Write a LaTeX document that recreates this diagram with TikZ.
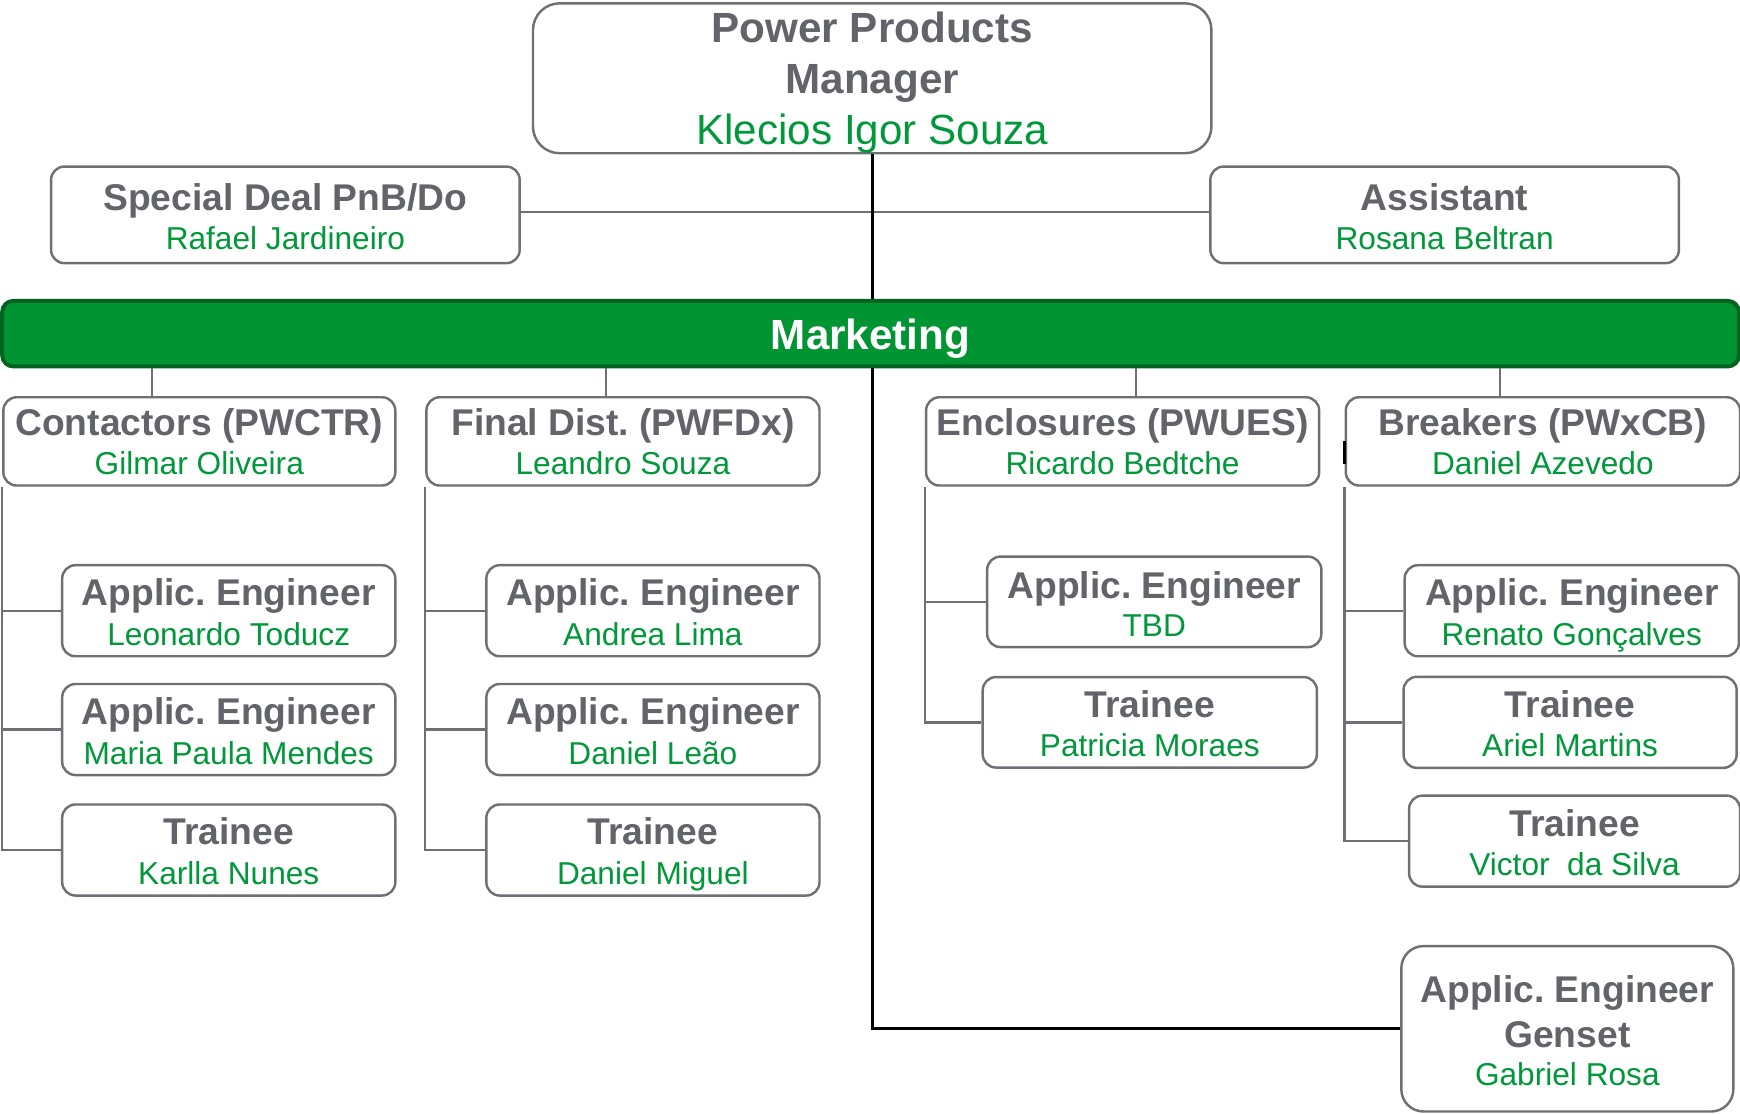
\documentclass[tikz,border=0pt]{standalone}
\usepackage{fontspec}
\setmainfont{Liberation Sans}
\usetikzlibrary{positioning}
\definecolor{txtgray}{RGB}{99,100,106}
\definecolor{boxgray}{RGB}{111,112,117}
\definecolor{nmgreen}{RGB}{0,152,58}
\definecolor{barfill}{RGB}{0,149,50}
\definecolor{bardraw}{RGB}{0,100,32}
\frenchspacing

\begin{document}
\begin{tikzpicture}[x=1pt, y=-1pt,
	box/.style = {draw=boxgray, line width=2.2pt, fill=white,
                   rounded corners=12pt, inner sep=0pt,
                   minimum width=300pt, minimum height=82pt},
	ttl/.style = {anchor=base, inner sep=0pt, text=txtgray,
                   font=\fontsize{33.5}{40}\selectfont\bfseries},
	nm/.style = {anchor=base, inner sep=0pt, text=nmgreen,
                   font=\fontsize{28.5}{34}\selectfont},
	conn/.style = {draw=boxgray, line width=2.2pt},
	trunk/.style = {draw=black, line width=2.4pt}
                   ]
\useasboundingbox (0,0) rectangle (1567,1003.2);

% manager and staff
\node[box, minimum width=611pt, minimum height=135pt, rounded corners=24pt] (mgr) at (785.5,70.5) {};
\node[ttl, font=\fontsize{38}{44}\selectfont\bfseries] (mgr-t1) at ([yshift=-36.5pt]mgr.north) {Power Products};
\node[ttl, font=\fontsize{38}{44}\selectfont\bfseries] (mgr-t2) at ([yshift=-82.5pt]mgr.north) {Manager};
\node[nm, font=\fontsize{38}{44}\selectfont] (mgr-n) at ([yshift=-128.5pt]mgr.north) {Klecios Igor Souza};

\node[box, minimum width=422pt, minimum height=87pt] (spd) at (257,193.5) {};
\node[ttl] (spd-t) at ([yshift=-41pt]spd.north) {Special Deal PnB/Do};
\node[nm] (spd-n) at ([yshift=-75.5pt]spd.north) {Rafael Jardineiro};

\node[box, minimum width=422pt, minimum height=87pt] (ast) at (1301,193.5) {};
\node[ttl] (ast-t) at ([yshift=-41pt]ast.north) {Assistant};
\node[nm] (ast-n) at ([yshift=-75.5pt]ast.north) {Rosana Beltran};

% marketing bar
\node[draw=bardraw, fill=barfill, line width=3.6pt, rounded corners=10pt,
      minimum width=1564pt, minimum height=59pt, inner sep=0pt] (mkt) at (784,300.5) {};
\node[ttl, text=white, font=\fontsize{38}{44}\selectfont\bfseries] (mkt-t) at ([yshift=-46pt]mkt.north) {Marketing};

% product lines
\node[box, minimum width=353pt, minimum height=79.5pt] (ctr) at (179.5,397.5) {};
\node[ttl] (ctr-t) at ([yshift=-35.5pt]ctr.north) {Contactors (PWCTR)};
\node[nm] (ctr-n) at ([yshift=-70.6pt]ctr.north) {Gilmar Oliveira};

\node[box, minimum width=354pt, minimum height=79.5pt] (fds) at (561,397.5) {};
\node[ttl] (fds-t) at ([yshift=-35.5pt]fds.north) {Final Dist. (PWFDx)};
\node[nm] (fds-n) at ([yshift=-70.6pt]fds.north) {Leandro Souza};

\node[box, minimum width=354pt, minimum height=79.5pt] (enc) at (1011,397.5) {};
\node[ttl] (enc-t) at ([yshift=-35.5pt]enc.north) {Enclosures (PWUES)};
\node[nm] (enc-n) at ([yshift=-70.6pt]enc.north) {Ricardo Bedtche};

\node[box, minimum width=355pt, minimum height=79.5pt] (brk) at (1389.5,397.5) {};
\node[ttl] (brk-t) at ([yshift=-35.5pt]brk.north) {Breakers (PWxCB)};
\node[nm] (brk-n) at ([yshift=-70.6pt]brk.north) {Daniel Azevedo};

% contactors team
\node[box] (leo) at (206,550) {};
\node[ttl] (leo-t) at ([yshift=-37.5pt]leo.north) {Applic. Engineer};
\node[nm] (leo-n) at ([yshift=-73.3pt]leo.north) {Leonardo Toducz};
\node[box] (mpm) at (206,657) {};
\node[ttl] (mpm-t) at ([yshift=-37.5pt]mpm.north) {Applic. Engineer};
\node[nm] (mpm-n) at ([yshift=-73.3pt]mpm.north) {Maria Paula Mendes};
\node[box] (kar) at (206,765.5) {};
\node[ttl] (kar-t) at ([yshift=-37.5pt]kar.north) {Trainee};
\node[nm] (kar-n) at ([yshift=-73.3pt]kar.north) {Karlla Nunes};

% final distribution team
\node[box] (and) at (588,550) {};
\node[ttl] (and-t) at ([yshift=-37.5pt]and.north) {Applic. Engineer};
\node[nm] (and-n) at ([yshift=-73.3pt]and.north) {Andrea Lima};
\node[box] (dle) at (588,657) {};
\node[ttl] (dle-t) at ([yshift=-37.5pt]dle.north) {Applic. Engineer};
\node[nm] (dle-n) at ([yshift=-73.3pt]dle.north) {Daniel Leão};
\node[box] (dmi) at (588,765.5) {};
\node[ttl] (dmi-t) at ([yshift=-37.5pt]dmi.north) {Trainee};
\node[nm] (dmi-n) at ([yshift=-73.3pt]dmi.north) {Daniel Miguel};

% enclosures team
\node[box, minimum width=301pt, minimum height=81.5pt] (tbd) at (1039.5,542) {};
\node[ttl] (tbd-t) at ([yshift=-38.5pt]tbd.north) {Applic. Engineer};
\node[nm] (tbd-n) at ([yshift=-73.5pt]tbd.north) {TBD};
\node[box, minimum width=301pt, minimum height=81.5pt] (pat) at (1035.5,650.5) {};
\node[ttl] (pat-t) at ([yshift=-37.5pt]pat.north) {Trainee};
\node[nm] (pat-n) at ([yshift=-73pt]pat.north) {Patricia Moraes};

% breakers team
\node[box, minimum width=301pt] (ren) at (1415.5,550) {};
\node[ttl] (ren-t) at ([yshift=-37.5pt]ren.north) {Applic. Engineer};
\node[nm] (ren-n) at ([yshift=-73.3pt]ren.north) {Renato Gonçalves};
\node[box] (ari) at (1414,650.5) {};
\node[ttl] (ari-t) at ([yshift=-37.5pt]ari.north) {Trainee};
\node[nm] (ari-n) at ([yshift=-73.3pt]ari.north) {Ariel Martins};
\node[box, minimum width=298pt] (vic) at (1418,757.5) {};
\node[ttl] (vic-t) at ([yshift=-37.5pt]vic.north) {Trainee};
\node[nm] (vic-n) at ([yshift=-73.3pt]vic.north) {Victor~ da Silva};

% genset
\node[box, minimum width=299pt, minimum height=149pt, rounded corners=20pt] (gen) at (1411.5,926.5) {};
\node[ttl] (gen-t1) at ([yshift=-51.5pt]gen.north) {Applic. Engineer};
\node[ttl] (gen-t2) at ([yshift=-92.5pt]gen.north) {Genset};
\node[nm] (gen-n) at ([yshift=-127pt]gen.north) {Gabriel Rosa};

% connectors
\draw[conn] ([yshift=2.5pt]spd.east) -- ([yshift=2.5pt]ast.west);
\draw[conn] ([xshift=135pt]ctr.north west) -- ([xshift=135pt]ctr.north west |- mkt.south);
\draw[conn] ([xshift=163pt]fds.north west) -- ([xshift=163pt]fds.north west |- mkt.south);
\draw[conn] ([xshift=190pt]enc.north west) -- ([xshift=190pt]enc.north west |- mkt.south);
\draw[conn] ([xshift=140pt]brk.north west) -- ([xshift=140pt]brk.north west |- mkt.south);

\draw[conn] (ctr.south west) |- (kar.west);
\draw[conn] (leo.west) -- (leo.west -| ctr.west);
\draw[conn] (mpm.west) -- (mpm.west -| ctr.west);
\draw[conn] (fds.south west) |- (dmi.west);
\draw[conn] (and.west) -- (and.west -| fds.west);
\draw[conn] (dle.west) -- (dle.west -| fds.west);
\draw[conn] (enc.south west) |- (pat.west);
\draw[conn] (tbd.west) -- (tbd.west -| enc.west);
\draw[conn] (brk.south west) |- (vic.west);
\draw[conn] (ren.west) -- (ren.west -| brk.west);
\draw[conn] (ari.west) -- (ari.west -| brk.west);

\draw[trunk] (mgr.south) -- (mkt.north -| mgr.south);
\draw[trunk] (mkt.south -| mgr.south) |- (gen.west);
\draw[trunk, line width=3pt] (brk.west) -- ([yshift=-20pt]brk.west);
\end{tikzpicture}
\end{document}
